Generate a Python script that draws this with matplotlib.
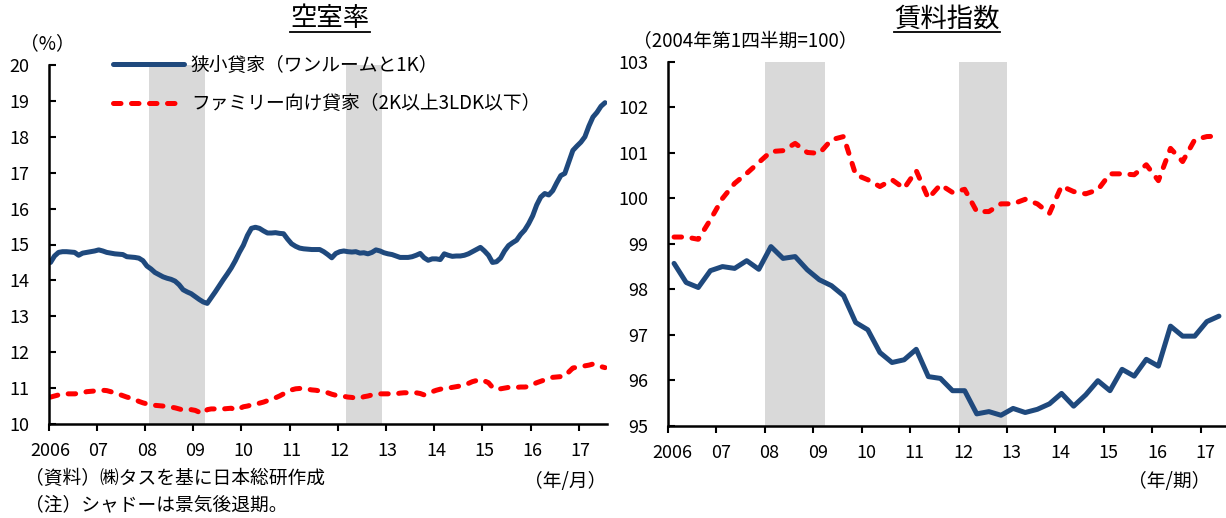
import matplotlib
matplotlib.use('Agg')
import matplotlib.pyplot as plt
import matplotlib.transforms as mtransforms
from matplotlib.lines import Line2D

plt.rcParams['font.family'] = ['Noto Sans CJK JP', 'DejaVu Sans']

# 空室率 (%), monthly 2006/1 - 2017/7
small_vacancy = [
    14.50, 14.68, 14.78, 14.80, 14.80, 14.79, 14.78, 14.70, 14.76, 14.78, 14.80, 14.82,
    14.85, 14.82, 14.78, 14.76, 14.74, 14.73, 14.72, 14.66, 14.65, 14.64, 14.62, 14.55,
    14.40, 14.32, 14.22, 14.16, 14.10, 14.06, 14.03, 13.98, 13.88, 13.74, 13.68, 13.63,
    13.55, 13.47, 13.40, 13.36, 13.52, 13.68, 13.85, 14.02, 14.18, 14.35, 14.55, 14.78,
    14.98, 15.25, 15.45, 15.48, 15.45, 15.38, 15.32, 15.32, 15.33, 15.31, 15.30, 15.15,
    15.02, 14.95, 14.90, 14.88, 14.87, 14.86, 14.86, 14.86, 14.80, 14.72, 14.63, 14.75,
    14.80, 14.82, 14.80, 14.79, 14.80, 14.76, 14.77, 14.74, 14.78, 14.85, 14.82, 14.77,
    14.74, 14.72, 14.68, 14.64, 14.64, 14.64, 14.66, 14.70, 14.75, 14.63, 14.56, 14.60,
    14.60, 14.58, 14.74, 14.70, 14.67, 14.68, 14.68, 14.70, 14.74, 14.80, 14.86, 14.92,
    14.82, 14.70, 14.50, 14.52, 14.62, 14.82, 14.97, 15.05, 15.12, 15.28, 15.40, 15.58,
    15.80, 16.10, 16.32, 16.42, 16.38, 16.50, 16.72, 16.92, 16.98, 17.30, 17.62, 17.74,
    17.85, 18.00, 18.30, 18.55, 18.68, 18.85, 18.95,
]
family_vacancy = [
    10.75, 10.78, 10.81, 10.83, 10.84, 10.84, 10.84, 10.85, 10.87, 10.90, 10.91, 10.92,
    10.93, 10.94, 10.93, 10.90, 10.87, 10.83, 10.79, 10.75, 10.72, 10.68, 10.63, 10.59,
    10.56, 10.54, 10.52, 10.51, 10.50, 10.49, 10.47, 10.45, 10.42, 10.39, 10.39, 10.40,
    10.38, 10.33, 10.29, 10.40, 10.42, 10.42, 10.41, 10.42, 10.43, 10.44, 10.39, 10.43,
    10.48, 10.50, 10.53, 10.55, 10.58, 10.61, 10.65, 10.68, 10.73, 10.78, 10.84, 10.90,
    10.95, 10.98, 10.99, 10.98, 10.97, 10.95, 10.94, 10.92, 10.90, 10.87, 10.83, 10.80,
    10.78, 10.77, 10.75, 10.74, 10.72, 10.72, 10.76, 10.78, 10.81, 10.83, 10.84, 10.84,
    10.84, 10.84, 10.84, 10.86, 10.87, 10.87, 10.87, 10.87, 10.85, 10.81, 10.86, 10.90,
    10.94, 10.97, 10.99, 11.00, 11.02, 11.04, 11.06, 11.09, 11.13, 11.18, 11.21, 11.24,
    11.20, 11.15, 11.02, 10.96, 10.98, 11.00, 11.02, 11.02, 11.02, 11.03, 11.03, 11.04,
    11.10, 11.15, 11.19, 11.23, 11.27, 11.30, 11.31, 11.32, 11.33, 11.45, 11.56, 11.58,
    11.60, 11.62, 11.64, 11.67, 11.65, 11.60, 11.57,
]

# 賃料指数 (2004Q1=100), quarterly 2006Q1 - 2017Q2
small_rent = [
    98.57, 98.15, 98.04, 98.41, 98.50, 98.46, 98.63, 98.44,
    98.94, 98.68, 98.72, 98.43, 98.21, 98.08, 97.86, 97.27,
    97.11, 96.61, 96.39, 96.45, 96.68, 96.08, 96.04, 95.77,
    95.77, 95.26, 95.31, 95.23, 95.38, 95.29, 95.36, 95.48,
    95.71, 95.43, 95.68, 95.99, 95.77, 96.24, 96.09, 96.46,
    96.31, 97.19, 96.97, 96.97, 97.29, 97.41,
]
family_rent = [
    99.15, 99.15, 99.10, 99.53, 100.00, 100.33, 100.55, 100.79,
    101.03, 101.05, 101.21, 101.01, 100.99, 101.29, 101.36, 100.52,
    100.41, 100.26, 100.41, 100.22, 100.61, 100.00, 100.30, 100.13,
    100.20, 99.71, 99.71, 99.88, 99.88, 99.98, 99.88, 99.67,
    100.27, 100.15, 100.10, 100.19, 100.54, 100.54, 100.52, 100.74,
    100.39, 101.10, 100.81, 101.29, 101.36, 101.37,
]

year_ticks = list(range(2006, 2018))
year_labels = ['2006'] + ['%02d' % (y % 100) for y in range(2007, 2018)]

# 景気後退期 (start, end inclusive)
recessions_monthly = [((2008, 2), (2009, 3)), ((2012, 3), (2012, 11))]
recessions_quarterly = [((2008, 1), (2009, 1)), ((2012, 1), (2012, 4))]

legend_labels = ['狭小貸家（ワンルームと1K）', 'ファミリー向け貸家（2K以上3LDK以下）']

BLUE = '#1F497D'
RED = '#FF0000'
SHADE = '#D9D9D9'
LW = 3.6
DASH = (0, (1.5, 2.1))

W, H = 1226, 518
fig = plt.figure(figsize=(W / 100, H / 100), dpi=100)

ax1 = fig.add_axes([48.5 / W, (H - 424) / H, (607 - 48.5) / W, (424 - 65) / H])
ax2 = fig.add_axes([668 / W, (H - 425.7) / H, (1225 - 668) / W, (425.7 - 62) / H])

# left: vacancy
mx = [2006 + (i + 0.5) / 12 for i in range(len(small_vacancy))]
for (y0, m0), (y1, m1) in recessions_monthly:
    ax1.axvspan(y0 + (m0 - 1) / 12, y1 + m1 / 12, color=SHADE, lw=0, zorder=0)
ax1.plot(mx, small_vacancy, color=BLUE, lw=LW, solid_capstyle='round',
         solid_joinstyle='round', zorder=3, label=legend_labels[0])
ax1.plot(mx, family_vacancy, color=RED, lw=LW, linestyle=DASH,
         dash_capstyle='round', zorder=3, label=legend_labels[1])
ax1.set_xlim(2006, 2006 + len(small_vacancy) / 12)
ax1.set_ylim(10, 20)
ax1.set_yticks(range(10, 21))

# right: rent index
qx = [2006 + (k + 0.5) / 4 for k in range(len(small_rent))]
for (y0, q0), (y1, q1) in recessions_quarterly:
    ax2.axvspan(y0 + (q0 - 1) / 4, y1 + q1 / 4, color=SHADE, lw=0, zorder=0)
ax2.plot(qx, small_rent, color=BLUE, lw=LW, solid_capstyle='round',
         solid_joinstyle='round', zorder=3, clip_on=False)
ax2.plot(qx, family_rent, color=RED, lw=LW, linestyle=DASH,
         dash_capstyle='round', zorder=3, clip_on=False)
ax2.set_xlim(2006, 2017.5)
ax2.set_ylim(95, 103)
ax2.set_yticks(range(95, 104))

for ax in (ax1, ax2):
    ax.set_xticks(year_ticks)
    ax.set_xticklabels(year_labels)
    for s in ('top', 'right'):
        ax.spines[s].set_visible(False)
    for s in ('left', 'bottom'):
        ax.spines[s].set_linewidth(1.8)
        ax.spines[s].set_zorder(4)
    ax.tick_params(axis='x', direction='out', length=5, width=1.5, pad=8, labelsize=13)
    ax.tick_params(axis='y', direction='in', length=5, width=1.5, pad=14, labelsize=13)
    ax.patch.set_alpha(0)

off1 = mtransforms.ScaledTranslation(0.018, 0, fig.dpi_scale_trans)
off2 = mtransforms.ScaledTranslation(0.047, 0, fig.dpi_scale_trans)
for lab in ax1.get_xticklabels():
    lab.set_transform(lab.get_transform() + off1)
for lab in ax2.get_xticklabels():
    lab.set_transform(lab.get_transform() + off2)

leg = ax1.legend(loc='upper left', bbox_to_anchor=(113 / W, 1 - 55 / H),
                 bbox_transform=fig.transFigure, frameon=False, fontsize=13.5,
                 borderpad=0, borderaxespad=0, handlelength=3.8,
                 handletextpad=0.35, labelspacing=0.93)

# texts
t1 = fig.text(330 / W, 1 - 19 / H, '空室率', ha='center', va='center', fontsize=19)
t2 = fig.text(947 / W, 1 - 19 / H, '賃料指数', ha='center', va='center', fontsize=19)
fig.text(47 / W, 1 - 44 / H, '（%）', ha='center', va='center', fontsize=13.5)
fig.text(633 / W, 1 - 42 / H, '（2004年第1四半期=100）', ha='left', va='center', fontsize=13.5)
fig.text(606 / W, 1 - 482 / H, '（年/月）', ha='right', va='center', fontsize=13.5)
fig.text(1210 / W, 1 - 482 / H, '（年/期）', ha='right', va='center', fontsize=13.5)
fig.text(25 / W, 1 - 478 / H, '（資料）㈱タスを基に日本総研作成', ha='left', va='center', fontsize=13.5)
fig.text(25 / W, 1 - 505 / H, '（注）シャドーは景気後退期。', ha='left', va='center', fontsize=13.5)

# underline titles
fig.canvas.draw()
renderer = fig.canvas.get_renderer()
for t in (t1, t2):
    bb = t.get_window_extent(renderer)
    fig.add_artist(Line2D([bb.x0, bb.x1], [H - 32, H - 32], color='black', lw=1.3,
                          transform=mtransforms.IdentityTransform()))

fig.savefig('out.png', dpi=100)
